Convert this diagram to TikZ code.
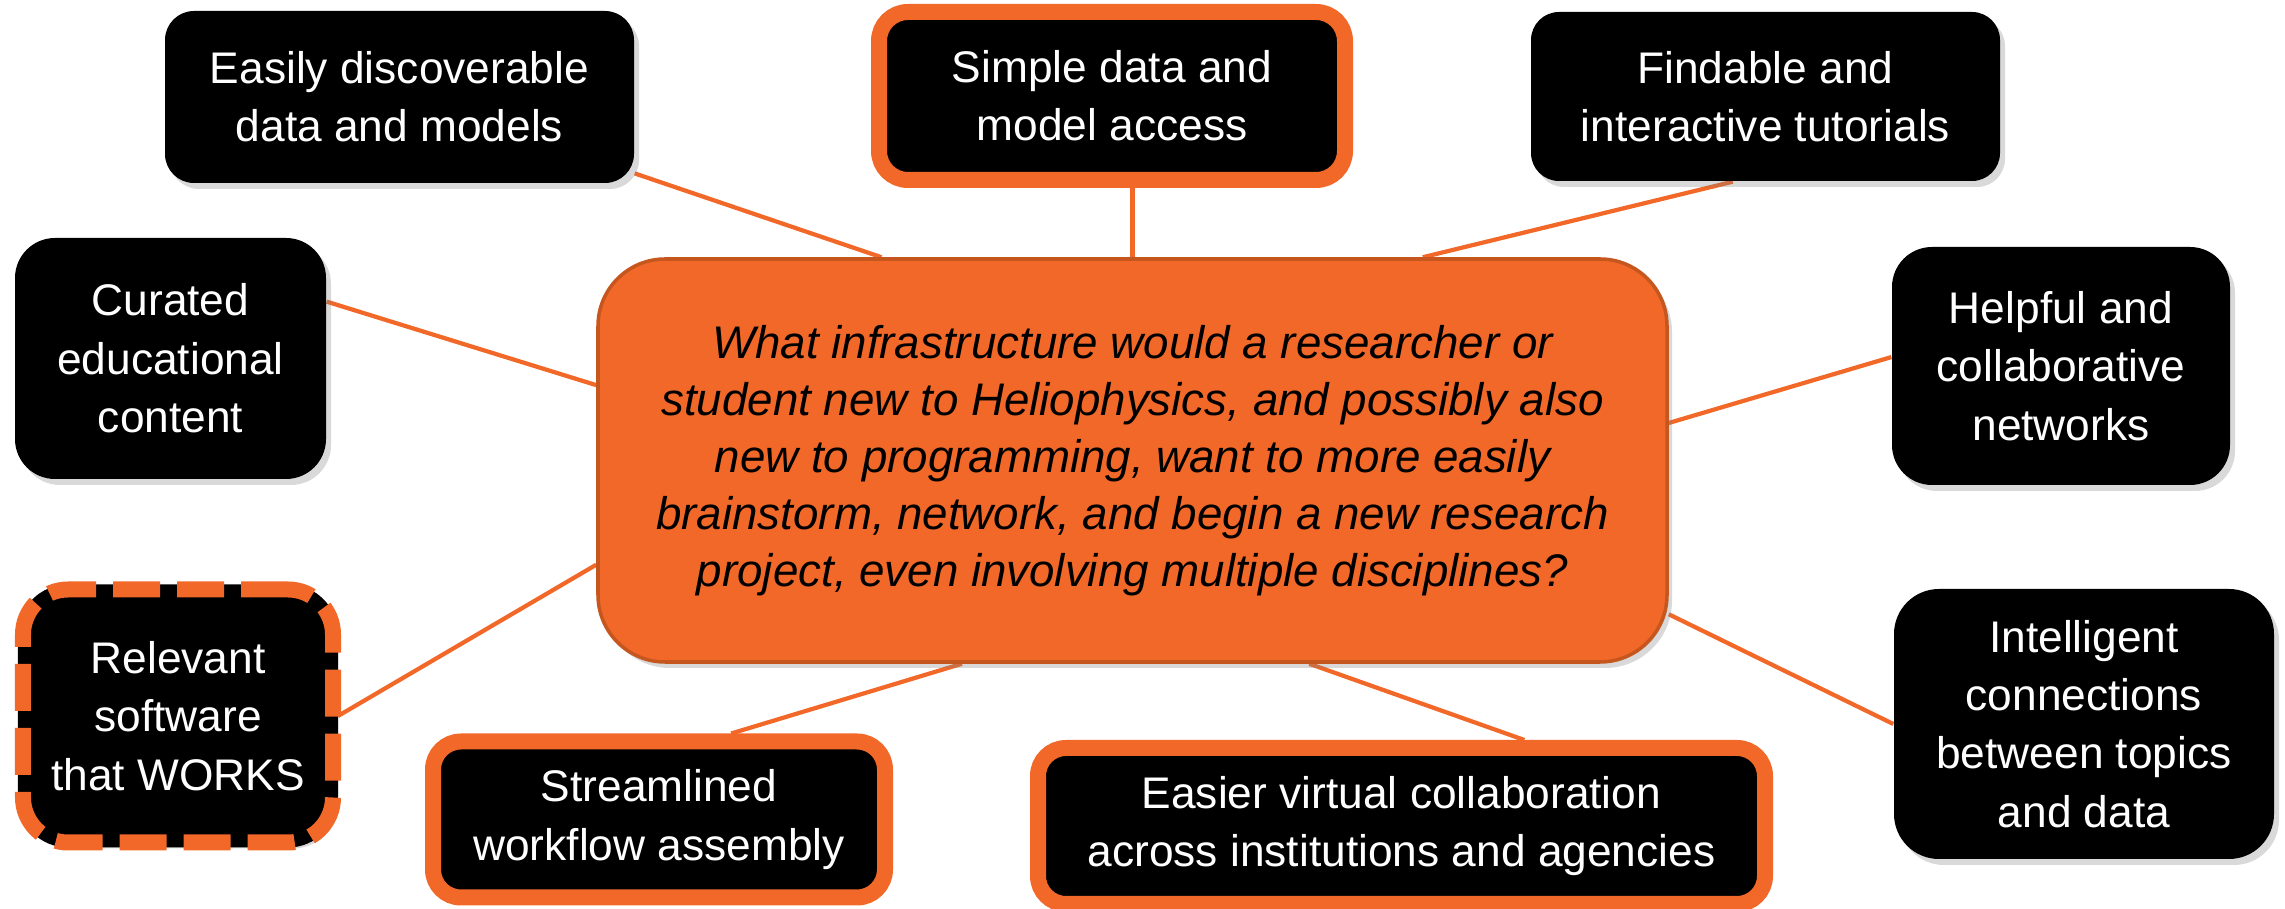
\documentclass[tikz,border=0pt]{standalone}
\usepackage{fontspec}
\setmainfont{Liberation Sans}
\usetikzlibrary{shadows,backgrounds}

\definecolor{hporange}{RGB}{241,104,41}
\definecolor{hpdark}{RGB}{197,86,30}
\def\borderwidth{0.16cm}

\tikzset{
  idea/.style={rectangle, fill=black, text=white, align=center, inner sep=0pt,
    font=\fontsize{12.6}{16.6}\selectfont,
    drop shadow={opacity=0.3, shadow xshift=0.05cm, shadow yshift=-0.06cm}},
  keyidea/.style={idea, draw=hporange, line width=\borderwidth},
  wishidea/.style={idea, draw=black, line width=0.1cm,
    postaction={draw=hporange, line width=\borderwidth, dash pattern=on 0.47cm off 0.17cm}},
  question/.style={rectangle, fill=hporange, draw=hpdark, line width=1pt, align=center,
    font=\fontsize{13}{16.2}\selectfont\itshape, inner sep=0pt,
    drop shadow={opacity=0.3, shadow xshift=0.05cm, shadow yshift=-0.06cm}},
  link/.style={draw=hporange, line width=1.2pt},
}

\begin{document}
\begin{tikzpicture}
  \useasboundingbox (0,0) rectangle (22.85,9.09);

  \node [question, minimum width=10.69cm, minimum height=4.03cm, rounded corners=0.67cm] (quest) at (11.325, 4.485)
    {What infrastructure would a researcher or\\
     student new to Heliophysics, and possibly also\\
     new to programming, want to more easily\\
     brainstorm, network, and begin a new research\\
     project, even involving multiple disciplines?};

  % top row
  \node [idea, minimum width=4.69cm, minimum height=1.72cm, rounded corners=0.29cm] (discover) at (3.995, 8.12)
    {Easily discoverable\\data and models};
  \node [keyidea, minimum width=4.66cm, minimum height=1.68cm, rounded corners=0.29cm] (access) at (11.12, 8.13)
    {Simple data and\\model access};
  \node [idea, minimum width=4.69cm, minimum height=1.69cm, rounded corners=0.28cm] (tutorials) at (17.655, 8.125)
    {Findable and\\interactive tutorials};

  % sides
  \node [idea, minimum width=3.11cm, minimum height=2.41cm, rounded corners=0.40cm] (curated) at (1.705, 5.505)
    {Curated\\educational\\content};
  \node [idea, minimum width=3.38cm, minimum height=2.38cm, rounded corners=0.40cm] (networks) at (20.61, 5.43)
    {Helpful and\\collaborative\\networks};
  \node [wishidea, minimum width=3.10cm, minimum height=2.53cm, rounded corners=0.45cm] (software) at (1.78, 1.93)
    {Relevant\\software\\that WORKS};
  \node [idea, minimum width=3.80cm, minimum height=2.70cm, rounded corners=0.45cm] (connect) at (20.84, 1.85)
    {Intelligent\\connections\\between topics\\and data};

  % bottom row
  \node [keyidea, minimum width=4.52cm, minimum height=1.56cm, rounded corners=0.28cm] (workflow) at (6.59, 0.895)
    {Streamlined\\workflow assembly};
  \node [keyidea, minimum width=7.27cm, minimum height=1.56cm, rounded corners=0.28cm] (collab) at (14.015, 0.83)
    {Easier virtual collaboration\\across institutions and agencies};

  \begin{scope}[on background layer]
    \draw [link] (discover.-18) -- (quest.141);
    \draw [link] (access.south -| quest.north) -- (quest.north);
    \draw [link] (tutorials.249) -- (quest.35);
    \draw [link] (curated.20) -- (quest.172);
    \draw [link] (networks.177) -- (quest.4);
    \draw [link] (software.east) -- (quest.191);
    \draw [link] (workflow.50) -- (quest.230);
    \draw [link] (collab.35) -- (quest.-49);
    \draw [link] (connect.west) -- (quest.-16);
  \end{scope}

\end{tikzpicture}
\end{document}
